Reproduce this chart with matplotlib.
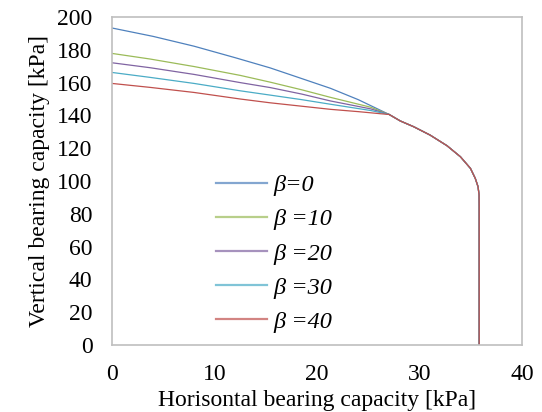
import matplotlib
matplotlib.use("Agg")
import matplotlib.pyplot as plt
import numpy as np

plt.rcParams['font.family'] = ['Liberation Serif', 'DejaVu Serif']

# head of each curve (before the curves join)
x_b0 = [0, 4, 8, 12, 15.4, 18, 21.3, 24, 27]
y_b0 = [193.3, 188.2, 182.2, 175.2, 169.0, 163.5, 156.5, 149.6, 140.6]
x_b10 = [0, 3.7, 8, 12.5, 15.4, 18.5, 21.3, 25.2, 27]
y_b10 = [177.8, 174.4, 169.8, 164.4, 160.3, 155.6, 151.0, 145.0, 140.6]
x_b20 = [0, 3.7, 8, 12.5, 15.4, 18.5, 21.3, 25.2, 27]
y_b20 = [172.1, 169.1, 165.0, 160.0, 157.0, 153.0, 148.8, 144.0, 140.6]
x_b30 = [0, 3.7, 8, 12.5, 15.4, 18.5, 21.3, 25.2, 27]
y_b30 = [166.2, 163.2, 159.5, 155.0, 152.4, 149.6, 146.8, 143.0, 140.6]
x_b40 = [0, 3.7, 8, 12.5, 15.4, 18.5, 21.3, 24, 25.2, 26.2, 27]
y_b40 = [159.5, 157.1, 154.0, 150.0, 147.7, 145.6, 143.7, 142.3, 141.6, 141.0, 140.6]

# shared tail
x_tail = [28.1, 29.4, 31.0, 32.65, 33.95, 34.93, 35.4, 35.67, 35.77, 35.78, 35.78]
y_tail = [136.6, 133.1, 128.0, 121.5, 114.8, 107.7, 101.6, 96.5, 91.5, 85.0, 0.0]

labels = ['β=0', 'β =10', 'β =20', 'β =30', 'β =40']
colors = ['#4F81BD', '#9BBB59', '#8064A2', '#4BACC6', '#C0504D']
heads = [(x_b0, y_b0), (x_b10, y_b10), (x_b20, y_b20), (x_b30, y_b30), (x_b40, y_b40)]

fig = plt.figure(figsize=(5.42, 4.12), dpi=100)
ax = fig.add_axes([0.2066, 0.1626, 0.7574, 0.7961])

for (hx, hy), lab, c in zip(heads, labels, colors):
    ax.plot(hx + x_tail, hy + y_tail, color=c, lw=0.9, label=lab)

ax.set_xlim(0, 40)
ax.set_ylim(0, 200)
ax.set_xticks(np.arange(0, 41, 10))
ax.set_yticks(np.arange(0, 201, 20))
ax.tick_params(length=0, labelsize=17, pad=14)
ax.tick_params(axis='y', pad=14)
for s in ax.spines.values():
    s.set_color('#BFBFBF')
    s.set_linewidth(1.2)

ax.set_xlabel('Horisontal bearing capacity [kPa]', fontsize=17, labelpad=3)
ax.set_ylabel('Vertical bearing capacity [kPa]', fontsize=17, labelpad=5)

leg = ax.legend(loc='lower left', bbox_to_anchor=(0.2, -0.03), frameon=False,
                prop={'style': 'italic', 'size': 17.5}, handlelength=2.1,
                handletextpad=0.25, labelspacing=0.5)
for h in leg.get_lines():
    h.set_linewidth(1.6)
    h.set_alpha(0.7)

fig.savefig('out.png', dpi=100)
